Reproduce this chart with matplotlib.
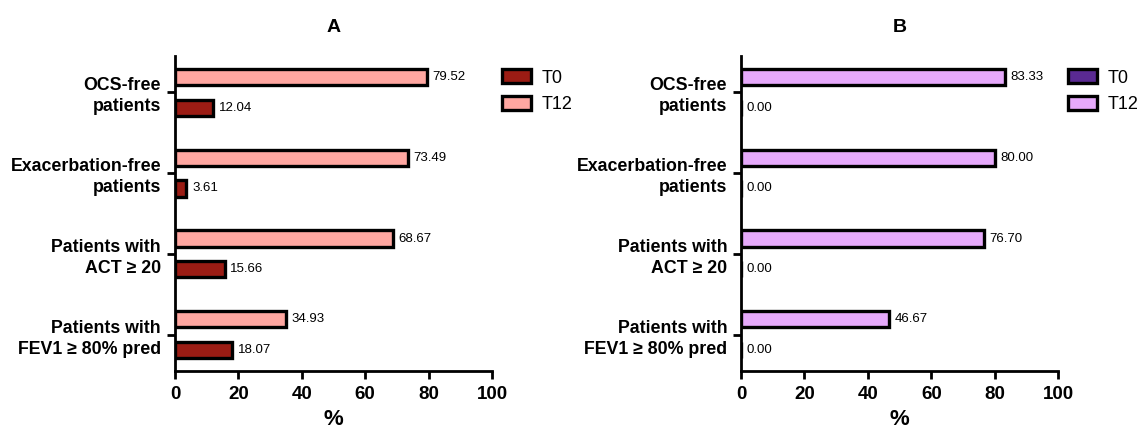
import matplotlib
matplotlib.use('agg')
from matplotlib import pyplot as plt
import numpy as np

# categories, top to bottom
categories = ['OCS-free\npatients', 'Exacerbation-free\npatients',
              'Patients with\nACT \u2265 20', 'Patients with\nFEV1 \u2265 80% pred']
series = ['T0', 'T12']

# panel A values (%)
a_t0 = [12.04, 3.61, 15.66, 18.07]
a_t12 = [79.52, 73.49, 68.67, 34.93]

# panel B values (%)
b_t0 = [0.00, 0.00, 0.00, 0.00]
b_t12 = [83.33, 80.00, 76.70, 46.67]

colors_a = ['#9b1c14', '#ffa7a1']
colors_b = ['#5a2a92', '#e6a9fb']

plt.rcParams['font.family'] = ['Liberation Sans', 'DejaVu Sans']

fig = plt.figure(figsize=(11.42, 4.29), dpi=100)
ax_a = fig.add_axes([0.1532, 0.1352, 0.2776, 0.7343])
ax_b = fig.add_axes([0.6489, 0.1352, 0.2776, 0.7343])


def draw_panel(ax, t0, t12, colors, title):
    y = np.arange(len(categories))
    h = 0.2
    off = 0.19
    b12 = ax.barh(y - off, t12, height=h, color=colors[1], edgecolor='black',
                  linewidth=2.4, label=series[1])
    b0 = ax.barh(y + off, t0, height=h, color=colors[0], edgecolor='black',
                 linewidth=2.4, label=series[0])
    for bars, vals in ((b12, t12), (b0, t0)):
        for rect, v in zip(bars, vals):
            ax.annotate('%.2f' % v, (v, rect.get_y() + rect.get_height() / 2),
                        xytext=(4, 0), textcoords='offset points',
                        ha='left', va='center', fontsize=9.5)
    ax.set_xlim(0, 100)
    ax.set_ylim(3.45, -0.45)
    ax.set_xticks([0, 20, 40, 60, 80, 100])
    ax.set_yticks(y)
    ax.set_yticklabels(categories, fontsize=12.8, fontweight='bold',
                       ha='right', multialignment='right', linespacing=1.3)
    for lbl in ax.get_xticklabels():
        lbl.set_fontweight('bold')
        lbl.set_fontsize(13.5)
    ax.tick_params(axis='both', direction='out', length=6, width=2)
    ax.tick_params(axis='x', pad=5)
    ax.tick_params(axis='y', pad=4)
    for s in ('top', 'right'):
        ax.spines[s].set_visible(False)
    for s in ('left', 'bottom'):
        ax.spines[s].set_linewidth(2)
    ax.set_xlabel('%', fontsize=16, fontweight='bold', labelpad=4)
    ax.set_title(title, fontsize=14, fontweight='bold', pad=17)
    handles = [b0, b12]
    ax.legend(handles, series, loc='upper left', bbox_to_anchor=(0.98, 1.01),
              frameon=False, fontsize=13, handlelength=1.6, handleheight=0.85,
              labelspacing=0.5, handletextpad=0.6)


draw_panel(ax_a, a_t0, a_t12, colors_a, 'A')
draw_panel(ax_b, b_t0, b_t12, colors_b, 'B')

plt.savefig('out.png', dpi=100)
plt.close()
